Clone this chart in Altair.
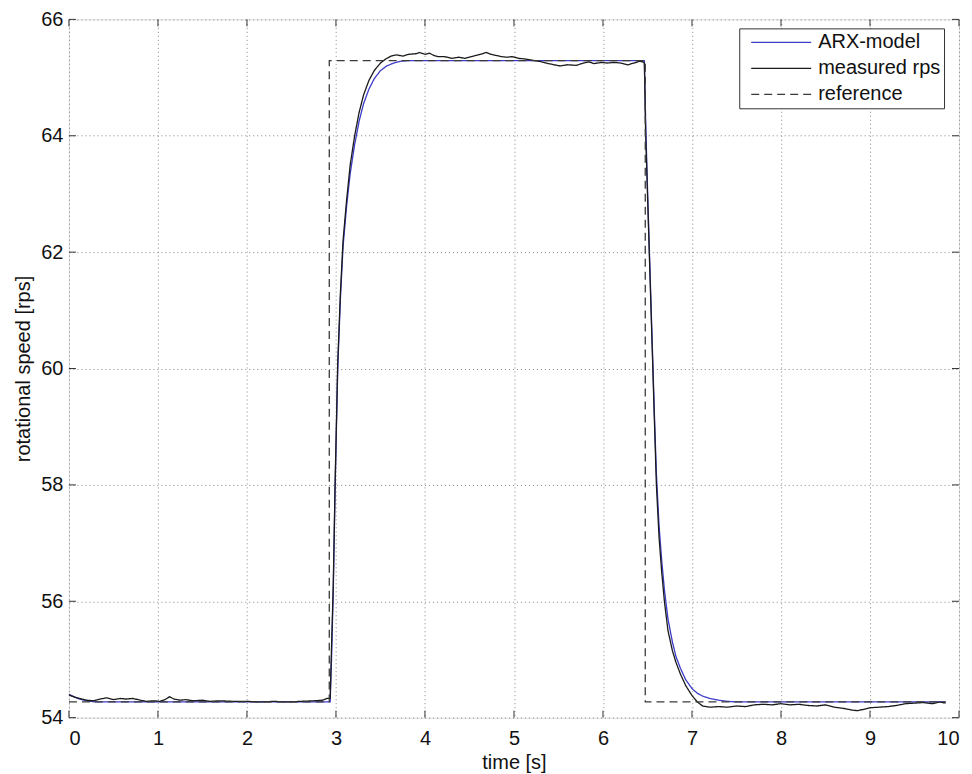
import altair as alt
import pandas as pd

# ---------------- data ----------------
series_names = ["ARX-model", "measured rps", "reference"]

x_ticks = [0, 1, 2, 3, 4, 5, 6, 7, 8, 9, 10]
y_ticks = [54, 56, 58, 60, 62, 64, 66]

t_ref = [0.0, 2.925, 2.925, 6.475, 6.475, 9.85]
v_ref = [54.27, 54.27, 65.29, 65.29, 54.27, 54.27]

t_meas = [0.00, 0.05, 0.12, 0.20, 0.27, 0.35, 0.42, 0.50, 0.58, 0.64, 0.72, 0.80,
          0.87, 0.95, 1.02, 1.08, 1.13, 1.18, 1.25, 1.31, 1.40, 1.50, 1.58, 1.70,
          1.85, 2.00, 2.15, 2.30, 2.45, 2.60, 2.75, 2.85, 2.90, 2.935, 2.95, 2.97,
          2.99, 3.02, 3.05, 3.08, 3.12, 3.16, 3.21, 3.26, 3.31, 3.37, 3.43, 3.50,
          3.56, 3.62, 3.68, 3.75, 3.82, 3.90, 3.94, 4.00, 4.05, 4.10, 4.15, 4.22,
          4.30, 4.38, 4.45, 4.52, 4.57, 4.62, 4.69, 4.74, 4.80, 4.86, 4.92, 4.98,
          5.05, 5.12, 5.20, 5.28, 5.36, 5.45, 5.52, 5.60, 5.70, 5.78, 5.84, 5.90,
          5.98, 6.05, 6.12, 6.20, 6.28, 6.35, 6.41, 6.45, 6.465, 6.48, 6.50, 6.52,
          6.54, 6.56, 6.58, 6.60, 6.63, 6.66, 6.69, 6.73, 6.78, 6.82, 6.87, 6.93,
          7.00, 7.06, 7.12, 7.20, 7.30, 7.40, 7.50, 7.60, 7.70, 7.80, 7.90, 8.00,
          8.10, 8.20, 8.30, 8.40, 8.50, 8.60, 8.70, 8.80, 8.86, 8.92, 9.00, 9.10,
          9.20, 9.30, 9.40, 9.50, 9.60, 9.70, 9.78, 9.85]
v_meas = [54.39, 54.36, 54.33, 54.30, 54.29, 54.32, 54.34, 54.31, 54.33, 54.32, 54.33, 54.30,
          54.28, 54.29, 54.28, 54.31, 54.36, 54.32, 54.30, 54.31, 54.29, 54.30, 54.28, 54.29,
          54.28, 54.28, 54.27, 54.28, 54.27, 54.28, 54.29, 54.30, 54.33, 54.33, 55.20, 56.30,
          58.00, 60.10, 61.30, 62.20, 62.90, 63.50, 64.00, 64.40, 64.70, 64.95, 65.12, 65.25,
          65.32, 65.37, 65.39, 65.37, 65.40, 65.41, 65.43, 65.40, 65.42, 65.38, 65.36, 65.36,
          65.33, 65.35, 65.33, 65.36, 65.38, 65.40, 65.43, 65.40, 65.38, 65.36, 65.35, 65.36,
          65.33, 65.32, 65.30, 65.28, 65.25, 65.22, 65.20, 65.22, 65.21, 65.25, 65.27, 65.24,
          65.26, 65.25, 65.26, 65.25, 65.22, 65.25, 65.28, 65.27, 65.25, 64.00, 63.00, 62.00,
          61.00, 60.00, 59.00, 58.00, 57.10, 56.50, 56.00, 55.50, 55.15, 54.95, 54.75, 54.55,
          54.38, 54.27, 54.20, 54.18, 54.19, 54.18, 54.20, 54.19, 54.22, 54.23, 54.22, 54.24,
          54.22, 54.23, 54.21, 54.20, 54.22, 54.18, 54.16, 54.13, 54.12, 54.14, 54.17, 54.18,
          54.19, 54.21, 54.24, 54.25, 54.26, 54.24, 54.27, 54.25]

t_arx = [0.00, 0.10, 0.20, 0.30, 2.935, 2.95, 2.97, 2.99, 3.02, 3.05, 3.08, 3.12, 3.16,
         3.21, 3.26, 3.31, 3.37, 3.43, 3.50, 3.57, 3.65, 3.72, 3.80, 6.465, 6.48, 6.50,
         6.52, 6.54, 6.56, 6.58, 6.60, 6.63, 6.66, 6.69, 6.73, 6.78, 6.82, 6.87, 6.93,
         7.00, 7.06, 7.12, 7.20, 7.30, 7.40, 7.50, 9.85]
v_arx = [54.40, 54.33, 54.29, 54.27, 54.27, 55.00, 56.20, 57.90, 60.00, 61.20, 62.10, 62.80, 63.35,
         63.85, 64.25, 64.55, 64.80, 64.98, 65.12, 65.20, 65.25, 65.28, 65.29, 65.29, 64.20, 63.10,
         62.10, 61.10, 60.10, 59.10, 58.20, 57.30, 56.70, 56.20, 55.70, 55.30, 55.05, 54.85, 54.65,
         54.50, 54.42, 54.37, 54.33, 54.30, 54.28, 54.27, 54.27]

# ---------------- tables ----------------
frames = []
for name, tt, vv in [("ARX-model", t_arx, v_arx),
                     ("measured rps", t_meas, v_meas),
                     ("reference", t_ref, v_ref)]:
    frames.append(pd.DataFrame({"t": tt, "v": vv, "series": name,
                                "i": range(len(tt))}))
lines_df = pd.concat(frames, ignore_index=True)

xt_df = pd.DataFrame({"t": x_ticks})
yt_df = pd.DataFrame({"v": y_ticks})

W, H = 891, 699
FONT = "Liberation Sans"

x_scale = alt.Scale(domain=[0, 10], nice=False)
y_scale = alt.Scale(domain=[54, 66], nice=False)

legend = alt.Legend(
    title=None, orient="none", legendX=671, legendY=9,
    symbolType="stroke", symbolSize=3600, symbolStrokeWidth=1.3,
    symbolOffset=8, clipHeight=22,
    labelFontSize=20, labelFont=FONT, labelColor="#111",
    strokeColor="#333", fillColor="white", padding=3,
    rowPadding=4, labelOffset=6, labelLimit=300,
)

lines = alt.Chart(lines_df).mark_line(strokeWidth=1.3, interpolate="linear").encode(
    x=alt.X("t:Q", scale=x_scale,
            axis=alt.Axis(values=x_ticks, format="d", title="time [s]",
                          grid=True, gridDash=[1, 3], gridColor="#888", gridOpacity=1,
                          tickSize=0, domain=False, labelFontSize=20, labelFont=FONT,
                          labelColor="#111", labelPadding=11, titleFontSize=20,
                          titleFont=FONT, titleFontWeight="normal", titleColor="#111",
                          titlePadding=4)),
    y=alt.Y("v:Q", scale=y_scale,
            axis=alt.Axis(values=y_ticks, format="d", title="rotational speed [rps]",
                          grid=True, gridDash=[1, 3], gridColor="#888", gridOpacity=1,
                          tickSize=0, domain=False, labelFontSize=20, labelFont=FONT,
                          labelColor="#111", labelPadding=6, titleFontSize=20,
                          titleFont=FONT, titleFontWeight="normal", titleColor="#111",
                          titlePadding=7)),
    color=alt.Color("series:N",
                    scale=alt.Scale(domain=series_names,
                                    range=["#3c3cc8", "#1a1a1a", "#3a3a3a"]),
                    legend=legend),
    strokeDash=alt.StrokeDash("series:N",
                              scale=alt.Scale(domain=series_names,
                                              range=[[1, 0], [1, 0], [8, 5]]),
                              legend=legend),
    detail="series:N",
    order="i:Q",
)

tick_len = 7
xt_bottom = alt.Chart(xt_df).mark_rule(color="#333", strokeWidth=1).encode(
    x=alt.X("t:Q", scale=x_scale), y=alt.value(H), y2=alt.value(H - tick_len))
xt_top = alt.Chart(xt_df).mark_rule(color="#333", strokeWidth=1).encode(
    x=alt.X("t:Q", scale=x_scale), y=alt.value(0), y2=alt.value(tick_len))
yt_left = alt.Chart(yt_df).mark_rule(color="#333", strokeWidth=1).encode(
    y=alt.Y("v:Q", scale=y_scale), x=alt.value(0), x2=alt.value(tick_len))
yt_right = alt.Chart(yt_df).mark_rule(color="#333", strokeWidth=1).encode(
    y=alt.Y("v:Q", scale=y_scale), x=alt.value(W), x2=alt.value(W - tick_len))

chart = alt.layer(lines, xt_bottom, xt_top, yt_left, yt_right).properties(
    width=W, height=H,
    autosize=alt.AutoSizeParams(type="none"),
    padding={"left": 61, "top": 11, "right": 5, "bottom": 56},
).configure_view(
    stroke="#333", strokeWidth=1.2
).configure(background="white")

chart.save("out.html", embed_options={"renderer": "svg", "actions": False})
